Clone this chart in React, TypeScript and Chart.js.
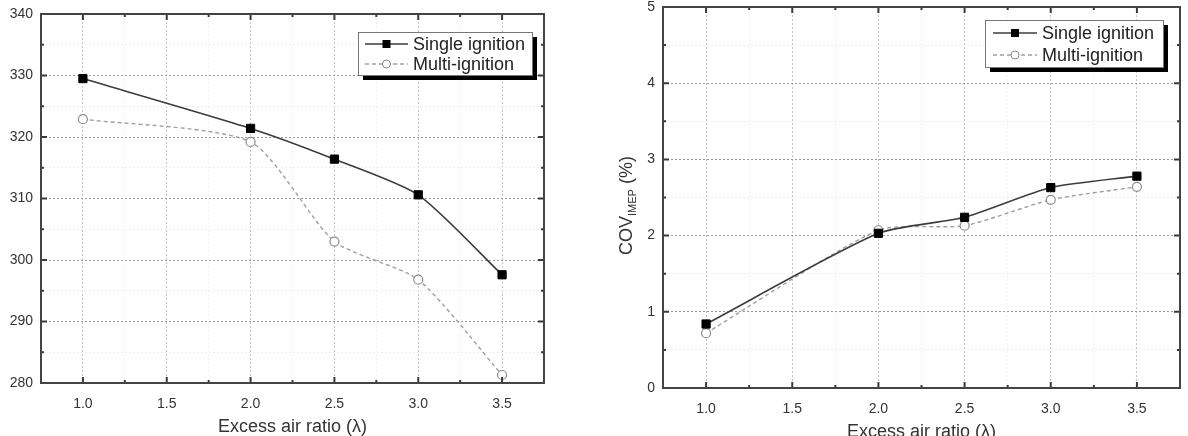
import React, { useEffect, useRef } from 'react';
import { Chart, registerables } from 'chart.js';

Chart.register(...registerables);

// ---------- data ----------
const lambdaValues = [1.0, 2.0, 2.5, 3.0, 3.5];
const seriesLabels = ['Single ignition', 'Multi-ignition'];
const isfcSingle = [329.5, 321.4, 316.4, 310.6, 297.6];
const isfcMulti = [322.9, 319.2, 303.0, 296.8, 281.3];
const covSingle = [0.84, 2.03, 2.24, 2.63, 2.78];
const covMulti = [0.72, 2.07, 2.13, 2.47, 2.64];
const xTitle = 'Excess air ratio (λ)';
const covTitleMain = 'COV';
const covTitleSub = 'IMEP';
const covTitleTail = ' (%)';

const FONT = '"Liberation Sans", Arial, Helvetica, sans-serif';
Chart.defaults.font.family = FONT;

const isMult = (v: number, step: number) => Math.abs(v / step - Math.round(v / step)) < 1e-6;

const frameTicks = {
  id: 'frameTicks',
  afterDraw(chart: any, _args: any, opts: any) {
    const { ctx, chartArea: a, scales } = chart;
    const xs = scales.x, ys = scales.y;
    ctx.save();
    ctx.strokeStyle = '#3a3a3a';
    ctx.lineWidth = 2;
    ctx.beginPath();
    xs.ticks.forEach((t: any) => {
      const px = xs.getPixelForValue(t.value);
      const len = isMult(t.value, opts.xMajor) ? 6 : 3;
      ctx.moveTo(px, a.bottom); ctx.lineTo(px, a.bottom - len);
      ctx.moveTo(px, a.top); ctx.lineTo(px, a.top + len);
    });
    ys.ticks.forEach((t: any) => {
      const py = ys.getPixelForValue(t.value);
      const len = isMult(t.value, opts.yMajor) ? 6 : 3;
      ctx.moveTo(a.left, py); ctx.lineTo(a.left + len, py);
      ctx.moveTo(a.right, py); ctx.lineTo(a.right - len, py);
    });
    ctx.stroke();
    ctx.strokeStyle = '#444';
    ctx.lineWidth = 2;
    ctx.strokeRect(a.left, a.top, a.right - a.left, a.bottom - a.top);
    ctx.restore();
  },
};

const boxLegend = {
  id: 'boxLegend',
  afterDraw(chart: any, _args: any, o: any) {
    const { ctx, chartArea: a } = chart;
    const w = o.width, h = o.height;
    const x = a.right - o.right - w, y = a.top + o.top;
    ctx.save();
    ctx.fillStyle = '#000';
    ctx.fillRect(x + 5, y + 5, w, h);
    ctx.fillStyle = '#fff';
    ctx.fillRect(x, y, w, h);
    ctx.strokeStyle = '#777';
    ctx.lineWidth = 1;
    ctx.strokeRect(x + 0.5, y + 0.5, w, h);
    chart.data.datasets.forEach((ds: any, i: number) => {
      const cy = y + o.rowStart + i * o.rowGap;
      ctx.save();
      ctx.strokeStyle = ds.borderColor;
      ctx.lineWidth = ds.borderWidth;
      ctx.setLineDash(ds.borderDash || []);
      ctx.beginPath();
      ctx.moveTo(x + o.lineStart, cy);
      ctx.lineTo(x + o.lineEnd, cy);
      ctx.stroke();
      ctx.restore();
      const mx = x + (o.lineStart + o.lineEnd) / 2;
      ctx.save();
      ctx.fillStyle = ds.pointBackgroundColor;
      ctx.strokeStyle = ds.pointBorderColor;
      ctx.lineWidth = 1;
      if (ds.pointStyle === 'rect') {
        ctx.fillRect(mx - 4, cy - 4, 8, 8);
      } else {
        ctx.beginPath();
        ctx.arc(mx, cy, 4, 0, Math.PI * 2);
        ctx.fill();
        ctx.stroke();
      }
      ctx.restore();
      ctx.fillStyle = '#222';
      ctx.font = `${o.fontSize}px ${FONT}`;
      ctx.textBaseline = 'middle';
      ctx.textAlign = 'left';
      ctx.fillText(ds.label, x + o.textStart, cy + 1);
    });
    ctx.restore();
  },
};

const subTitle = {
  id: 'subTitle',
  afterDraw(chart: any, _args: any, o: any) {
    if (!o || !o.main) return;
    const { ctx, chartArea: a } = chart;
    ctx.save();
    ctx.translate(o.x, (a.top + a.bottom) / 2 + o.dy);
    ctx.rotate(-Math.PI / 2);
    const big = `18px ${FONT}`, small = `11px ${FONT}`;
    ctx.font = big;
    const w1 = ctx.measureText(o.main).width;
    const w3 = ctx.measureText(o.tail).width;
    ctx.font = small;
    const w2 = ctx.measureText(o.sub).width;
    let sx = -(w1 + w2 + w3) / 2;
    ctx.fillStyle = '#333';
    ctx.textBaseline = 'middle';
    ctx.textAlign = 'left';
    ctx.font = big; ctx.fillText(o.main, sx, 0); sx += w1;
    ctx.font = small; ctx.fillText(o.sub, sx, 6); sx += w2;
    ctx.font = big; ctx.fillText(o.tail, sx, 0);
    ctx.restore();
  },
};

function makeDatasets(single: number[], multi: number[]) {
  return [
    {
      label: seriesLabels[0],
      data: lambdaValues.map((x, i) => ({ x, y: single[i] })),
      borderColor: '#3c3c3c',
      borderWidth: 1.6,
      pointStyle: 'rect',
      pointRadius: 5.8,
      pointBackgroundColor: '#000',
      pointBorderColor: '#000',
      pointBorderWidth: 1,
      tension: 0.22,
    },
    {
      label: seriesLabels[1],
      data: lambdaValues.map((x, i) => ({ x, y: multi[i] })),
      borderColor: '#a0a0a0',
      borderWidth: 1.4,
      borderDash: [4, 3],
      pointStyle: 'circle',
      pointRadius: 4.5,
      pointBackgroundColor: '#fff',
      pointBorderColor: '#8a8a8a',
      pointBorderWidth: 1.2,
      tension: 0.22,
    },
  ];
}

function makeConfig(p: any): any {
  return {
    type: 'line',
    data: { datasets: makeDatasets(p.single, p.multi) },
    plugins: [frameTicks, boxLegend, subTitle],
    options: {
      animation: false,
      responsive: false,
      layout: { padding: { top: p.padTop, right: p.padRight, left: 0, bottom: 0 } },
      plugins: {
        legend: { display: false },
        tooltip: { enabled: false },
        frameTicks: { xMajor: 0.5, yMajor: p.yMajor },
        boxLegend: p.legend,
        subTitle: p.subTitle || {},
      },
      scales: {
        x: {
          type: 'linear',
          min: 0.75,
          max: 3.75,
          afterFit: (s: any) => {
            s.height = p.xHeight;
            s.paddingLeft = 0;
            s.paddingRight = 0;
          },
          ticks: {
            stepSize: 0.25,
            autoSkip: false,
            padding: 14,
            color: '#333',
            font: { size: 14, lineHeight: 1 },
            maxRotation: 0,
            callback: (v: number) => (isMult(v, 0.5) ? v.toFixed(1) : ''),
          },
          grid: {
            drawTicks: false,
            color: (c: any) => (c.tick && isMult(c.tick.value, 0.5) ? '#c4c4c4' : '#efefef'),
            lineWidth: 1,
          },
          border: { display: false, dash: [2, 2] },
          title: {
            display: true,
            text: xTitle,
            color: '#333',
            font: { size: 18, lineHeight: 1.2 },
            padding: { top: 0, bottom: p.xTitlePad },
          },
        },
        y: {
          min: p.yMin,
          max: p.yMax,
          afterFit: (s: any) => {
            s.width = p.yWidth;
            s.paddingTop = 0;
            s.paddingBottom = 0;
          },
          ticks: {
            stepSize: p.yStep,
            autoSkip: false,
            padding: 8,
            color: '#333',
            font: { size: 14, lineHeight: 1 },
            callback: (v: number) => (isMult(v, p.yMajor) ? String(Math.round(v)) : ''),
          },
          grid: {
            drawTicks: false,
            color: (c: any) => (c.tick && isMult(c.tick.value, p.yMajor) ? '#9a9a9a' : '#ececec'),
            lineWidth: 1,
          },
          border: { display: false, dash: [2, 2] },
        },
      },
    },
  };
}

function ChartCanvas({ width, height, config }: { width: number; height: number; config: any }) {
  const ref = useRef<HTMLCanvasElement | null>(null);
  useEffect(() => {
    if (!ref.current) return;
    const chart = new Chart(ref.current, config);
    return () => chart.destroy();
  }, []);
  return <canvas ref={ref} width={width} height={height} style={{ width, height, display: 'block' }} />;
}

export default function App() {
  const leftCfg = makeConfig({
    single: isfcSingle,
    multi: isfcMulti,
    yMin: 280,
    yMax: 340,
    yStep: 5,
    yMajor: 10,
    yWidth: 41,
    xHeight: 53,
    padTop: 14,
    padRight: 36,
    xTitlePad: -2,
    legend: { width: 174, height: 43, right: 12, top: 18, rowStart: 12, rowGap: 20, lineStart: 7, lineEnd: 50, textStart: 55, fontSize: 18 },
  });
  const rightCfg = makeConfig({
    single: covSingle,
    multi: covMulti,
    yMin: 0,
    yMax: 5,
    yStep: 0.5,
    yMajor: 1,
    yWidth: 83,
    xHeight: 48,
    padTop: 7,
    padRight: 8,
    xTitlePad: -7,
    legend: { width: 178, height: 47, right: 17, top: 13, rowStart: 13, rowGap: 22, lineStart: 8, lineEnd: 52, textStart: 57, fontSize: 18 },
    subTitle: { main: covTitleMain, sub: covTitleSub, tail: covTitleTail, x: 47, dy: 8 },
  });
  return (
    <div style={{ position: 'absolute', left: 0, top: 0, width: 1188, height: 436, background: '#fff', overflow: 'hidden' }}>
      <div style={{ position: 'absolute', left: 0, top: 0 }}>
        <ChartCanvas width={580} height={436} config={leftCfg} />
      </div>
      <div style={{ position: 'absolute', left: 580, top: 0 }}>
        <ChartCanvas width={608} height={436} config={rightCfg} />
      </div>
    </div>
  );
}
